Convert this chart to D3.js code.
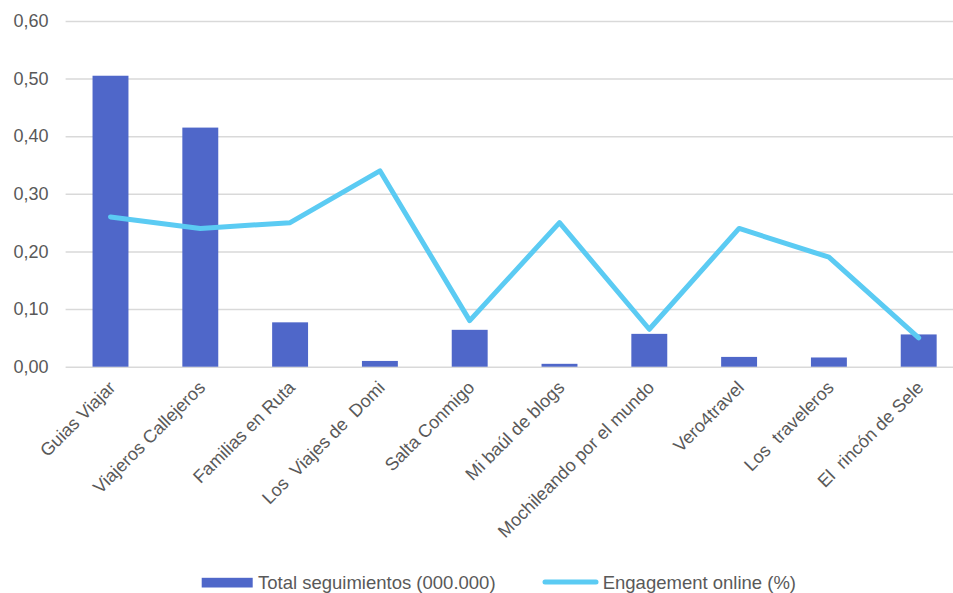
<!DOCTYPE html>
<html><head><meta charset="utf-8">
<script src="https://cdn.jsdelivr.net/npm/d3@7"></script>
<style>body{margin:0;background:#fff}svg{display:block}</style>
</head><body>
<svg id="c" width="953" height="593"></svg>
<script>
const categories = ["Guias Viajar","Viajeros Callejeros","Familias en Ruta","Los  Viajes de  Domi","Salta Conmigo","Mi baúl de blogs","Mochileando por el mundo","Vero4travel","Los  traveleros","El  rincón de Sele"];
const seguimientos = [0.505,0.415,0.077,0.010,0.064,0.005,0.057,0.017,0.016,0.056];
const engagement = [0.26,0.24,0.25,0.34,0.08,0.25,0.065,0.24,0.19,0.05];
const yTicks = [0,0.1,0.2,0.3,0.4,0.5,0.6];
const seriesNames = ["Total seguimientos (000.000)","Engagement online (%)"];

const svg = d3.select("#c");
const font = "'Liberation Sans', Arial, sans-serif";
const barColor = "#4f67c9", lineColor = "#5bcbf3";
const x = d3.scaleBand().domain(categories).range([65.6, 963.6]).paddingInner(0.6).paddingOuter(0.3);
const xc = d => x(d) + x.bandwidth()/2;
const y = d3.scaleLinear().domain([0,0.6]).range([366.7, 21]);
const fmt = d => d3.format(".2f")(d).replace(".", ",");

const yAxis = svg.append("g").attr("transform","translate(65.6,0)")
  .call(d3.axisLeft(y).tickValues(yTicks).tickFormat(fmt).tickSize(-900).tickPadding(17));
yAxis.select(".domain").remove();
yAxis.selectAll(".tick line").attr("stroke","#d9d9d9").attr("stroke-width",1.5);
yAxis.selectAll(".tick text").attr("fill","#595959").style("font-family",font).style("font-size","18px");

svg.append("g").selectAll("rect").data(categories).join("rect")
  .attr("x", d => x(d)).attr("width", x.bandwidth())
  .attr("y", (d,i) => y(seguimientos[i])).attr("height", (d,i) => y(0) - y(seguimientos[i]))
  .attr("fill", barColor);

svg.append("path").datum(engagement)
  .attr("d", d3.line().x((d,i)=>xc(categories[i])).y(d=>y(d)))
  .attr("fill","none").attr("stroke",lineColor).attr("stroke-width",5)
  .attr("stroke-linecap","round").attr("stroke-linejoin","round");

const xAxis = svg.append("g").attr("transform","translate(0,366.7)")
  .call(d3.axisBottom(x).tickSize(0).tickPadding(0));
xAxis.select(".domain").remove();
xAxis.selectAll(".tick text")
  .attr("fill","#595959").style("font-family",font).style("font-size","18px")
  .attr("text-anchor","end").attr("dy",null).attr("y",0)
  .attr("transform","translate(6,22) rotate(-45)")
  .style("white-space","pre");

const lg = svg.append("g");
const lfs = "18.5px";
lg.append("rect").attr("x",201.7).attr("y",577.8).attr("width",51).attr("height",9.7).attr("fill",barColor);
lg.append("text").attr("x",258).attr("y",588.6).text(seriesNames[0])
  .attr("fill","#595959").style("font-family",font).style("font-size",lfs);
lg.append("line").attr("x1",545).attr("x2",596).attr("y1",582).attr("y2",582)
  .attr("stroke",lineColor).attr("stroke-width",5).attr("stroke-linecap","round");
lg.append("text").attr("x",602.7).attr("y",588.6).text(seriesNames[1])
  .attr("fill","#595959").style("font-family",font).style("font-size",lfs);
</script>
</body></html>
